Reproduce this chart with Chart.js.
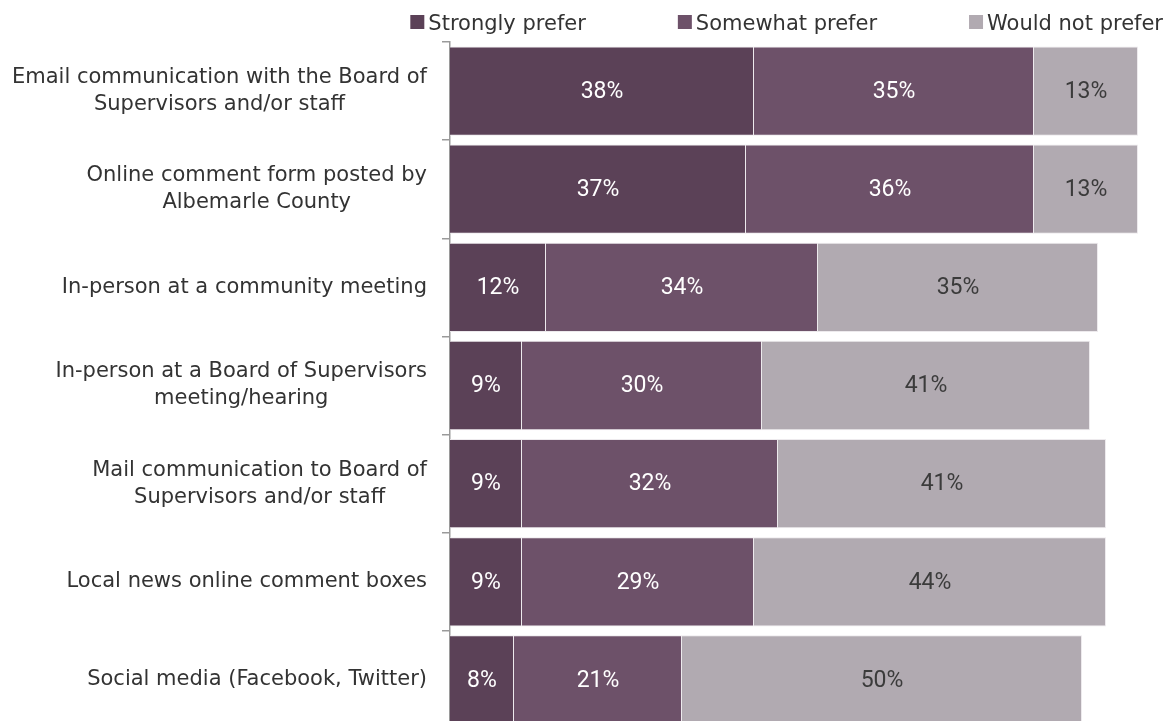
<!DOCTYPE html>
<html>
<head>
<meta charset="utf-8">
<script src="https://cdn.jsdelivr.net/npm/chart.js@4"></script>
<style>
  html, body { margin: 0; padding: 0; background: #fff; overflow: hidden; }
  #wrap { width: 1170px; height: 730px; }
</style>
</head>
<body>
<div id="wrap"><canvas id="prefChart" width="1170" height="730"></canvas></div>
<script>
// Data
const categories = [
  ["Email communication with the Board of", "Supervisors and/or staff"],
  ["Online comment form posted by", "Albemarle County"],
  ["In-person at a community meeting"],
  ["In-person at a Board of Supervisors", "meeting/hearing"],
  ["Mail communication to Board of", "Supervisors and/or staff"],
  ["Local news online comment boxes"],
  ["Social media (Facebook, Twitter)"]
];
const seriesNames = ["Strongly prefer", "Somewhat prefer", "Would not prefer"];
const stronglyPrefer = [38, 37, 12, 9, 9, 9, 8];
const somewhatPrefer = [35, 36, 34, 30, 32, 29, 21];
const wouldNotPrefer = [13, 13, 35, 41, 41, 44, 50];

const colors = ["#5b4157", "#6d5169", "#b1aab1"];
const labelColors = ["#ffffff", "#ffffff", "#3b3b3b"];

const LABEL_FONT = '21px "DejaVu Sans"';
const VALUE_FONT = '23px Roboto';

// Percent labels in the middle of each segment
const valueLabels = {
  id: "valueLabels",
  afterDatasetsDraw(chart) {
    const ctx = chart.ctx;
    ctx.save();
    ctx.font = VALUE_FONT;
    ctx.textAlign = "center";
    ctx.textBaseline = "middle";
    chart.data.datasets.forEach((ds, i) => {
      chart.getDatasetMeta(i).data.forEach((bar, j) => {
        const p = bar.getProps(["x", "y", "base"], true);
        ctx.fillStyle = labelColors[i];
        ctx.fillText(ds.data[j] + "%", (p.x + p.base) / 2, p.y + 1);
      });
    });
    ctx.restore();
  }
};

// Category names: block right aligned, lines centred within the block
const categoryLabels = {
  id: "categoryLabels",
  afterDraw(chart) {
    const ctx = chart.ctx;
    const y = chart.scales.y;
    const right = 427;
    const lineH = 27;
    ctx.save();
    ctx.font = LABEL_FONT;
    ctx.fillStyle = "#333333";
    ctx.textAlign = "center";
    ctx.textBaseline = "middle";
    categories.forEach((lines, i) => {
      const cy = y.getPixelForValue(i);
      const w = Math.max(...lines.map(l => ctx.measureText(l).width));
      const cx = right - w / 2;
      const y0 = cy - (lines.length - 1) * lineH / 2;
      lines.forEach((l, k) => ctx.fillText(l, cx, y0 + k * lineH));
    });
    ctx.restore();
  }
};

// Legend row across the top, right aligned
const topLegend = {
  id: "topLegend",
  afterDraw(chart) {
    const ctx = chart.ctx;
    const box = 14, gapBox = 4, gapItem = 92;
    ctx.save();
    ctx.font = LABEL_FONT;
    ctx.textBaseline = "alphabetic";
    const widths = seriesNames.map(n => box + gapBox + ctx.measureText(n).width);
    let x = 1163 - widths.reduce((a, b) => a + b, 0) - gapItem * (seriesNames.length - 1);
    seriesNames.forEach((n, i) => {
      ctx.fillStyle = colors[i];
      ctx.fillRect(x, 15, box, box);
      ctx.fillStyle = "#333333";
      ctx.fillText(n, x + box + gapBox, 30);
      x += widths[i] + gapItem;
    });
    ctx.restore();
  }
};

const data = {
  labels: categories,
  datasets: [stronglyPrefer, somewhatPrefer, wouldNotPrefer].map((vals, i) => ({
    label: seriesNames[i],
    data: vals,
    backgroundColor: colors[i],
    borderColor: "rgba(235,232,235,0.9)",
    borderWidth: 1,
    barPercentage: 0.91,
    categoryPercentage: 1
  }))
};

const config = {
  type: "bar",
  data: data,
  options: {
    indexAxis: "y",
    responsive: false,
    animation: false,
    devicePixelRatio: 1,
    layout: { padding: { top: 42, bottom: 1, left: 0, right: 0 } },
    scales: {
      x: { stacked: true, display: false, min: 0, max: 90 },
      y: {
        stacked: true,
        ticks: { display: false },
        grid: { drawOnChartArea: false, drawTicks: true, tickLength: 8, color: "#9a9a9a", lineWidth: 1.5, offset: true },
        border: { display: true, color: "#9a9a9a", width: 1.5 },
        afterFit(scale) { scale.width = 450; }
      }
    },
    plugins: {
      legend: { display: false },
      tooltip: { enabled: false }
    }
  },
  plugins: [valueLabels, categoryLabels, topLegend]
};

const ctx = document.getElementById("prefChart").getContext("2d");
const prefChart = new Chart(ctx, config);
</script>
</body>
</html>
